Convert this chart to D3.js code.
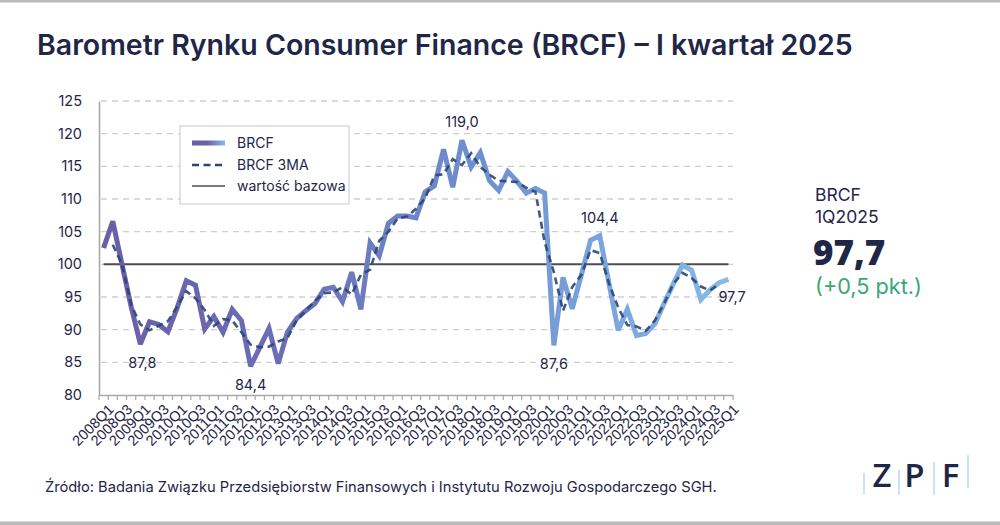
<!DOCTYPE html>
<html><head><meta charset="utf-8">
<script src="https://cdn.jsdelivr.net/npm/d3@7"></script>
<style>
html,body{margin:0;padding:0;background:#fff;}
svg{display:block;font-family:Inter,"Noto Sans",sans-serif;}
</style></head>
<body>
<svg id="c" width="1000" height="525"></svg>
<script>
const quarters = ["2008Q1","2008Q2","2008Q3","2008Q4","2009Q1","2009Q2","2009Q3","2009Q4","2010Q1","2010Q2","2010Q3","2010Q4","2011Q1","2011Q2","2011Q3","2011Q4","2012Q1","2012Q2","2012Q3","2012Q4","2013Q1","2013Q2","2013Q3","2013Q4","2014Q1","2014Q2","2014Q3","2014Q4","2015Q1","2015Q2","2015Q3","2015Q4","2016Q1","2016Q2","2016Q3","2016Q4","2017Q1","2017Q2","2017Q3","2017Q4","2018Q1","2018Q2","2018Q3","2018Q4","2019Q1","2019Q2","2019Q3","2019Q4","2020Q1","2020Q2","2020Q3","2020Q4","2021Q1","2021Q2","2021Q3","2021Q4","2022Q1","2022Q2","2022Q3","2022Q4","2023Q1","2023Q2","2023Q3","2023Q4","2024Q1","2024Q2","2024Q3","2024Q4","2025Q1"];
const brcf = [102.5,106.6,100.0,93.5,87.8,91.2,90.8,89.7,93.3,97.5,96.8,90.1,92.0,89.6,93.1,91.4,84.4,87.3,90.2,84.8,89.6,91.7,92.9,94.0,96.2,96.5,94.3,98.8,93.1,103.3,101.3,106.3,107.4,107.4,107.1,111.1,112.0,117.6,111.8,119.0,114.9,117.1,112.8,111.3,114.2,112.7,110.9,111.6,110.9,87.6,98.0,93.2,98.4,103.7,104.4,97.1,89.9,93.1,89.1,89.4,90.9,94.0,97.0,99.9,99.1,94.6,96.1,97.2,97.7];
// centered 3-quarter moving average (null where not available)
const brcf3ma = [null,103.0,100.0,93.8,90.8,89.9,90.6,91.3,93.5,95.9,94.8,93.0,90.6,91.6,91.4,89.6,87.7,87.3,87.4,88.2,88.7,91.4,92.9,94.4,95.6,95.7,96.5,95.4,98.4,99.2,103.6,105.0,107.0,107.3,108.5,110.1,113.6,113.8,116.1,115.2,117.0,114.9,113.7,112.8,112.7,112.6,111.7,111.1,103.4,98.8,92.9,96.5,98.4,102.2,101.7,97.1,93.4,90.7,90.5,89.8,91.4,94.0,97.0,98.7,97.9,96.6,96.0,97.0,null];
const baseValue = 100;
const yTicks = [80,85,90,95,100,105,110,115,120,125];
const annotations = [
  {q:"2009Q1", label:"87,8", pos:"below"},
  {q:"2012Q1", label:"84,4", pos:"below"},
  {q:"2017Q4", label:"119,0", pos:"above"},
  {q:"2020Q2", label:"87,6", pos:"below"},
  {q:"2021Q3", label:"104,4", pos:"above"},
  {q:"2025Q1", label:"97,7", pos:"right"}
];
const legendItems = ["BRCF","BRCF 3MA","wartość bazowa"];
const titleText = "Barometr Rynku Consumer Finance (BRCF) – I kwartał 2025";
const sourceText = "Źródło: Badania Związku Przedsiębiorstw Finansowych i Instytutu Rozwoju Gospodarczego SGH.";
const panelLines = ["BRCF","1Q2025"];
const panelValue = "97,7";
const panelChange = "(+0,5 pkt.)";
const logoLetters = ["Z","P","F"];

const NAVY = "#1f2647";
const svg = d3.select("#c");

function fit(sel, w){
  const n = sel.node();
  const cur = parseFloat(sel.attr("font-size"));
  const len = n.getComputedTextLength();
  if(len>0) sel.attr("font-size", (cur*w/len).toFixed(2));
}

// frame lines
svg.append("rect").attr("x",0).attr("y",0).attr("width",1000).attr("height",2.5).attr("fill","#b9b9b9");
svg.append("rect").attr("x",0).attr("y",521.5).attr("width",1000).attr("height",3.5).attr("fill","#b9b9b9");

// title
const t = svg.append("text").attr("x",37).attr("y",55).attr("font-size",23).attr("font-weight",600)
  .attr("fill",NAVY).text(titleText);
fit(t, 816);

const x = d3.scaleBand().domain(quarters).range([99,733]).padding(0);
const y = d3.scaleLinear().domain([80,125]).range([395,101]);
const cx = q => x(q) + x.bandwidth()/2;

// gridlines
svg.append("g").selectAll("line").data(yTicks.filter(v=>v!==80)).join("line")
  .attr("x1",101).attr("x2",733).attr("y1",d=>y(d)).attr("y2",d=>y(d))
  .attr("stroke","#cfcfcf").attr("stroke-width",1.3).attr("stroke-dasharray","6,5");

// y axis
const ya = svg.append("g").attr("transform","translate(99,0)")
  .call(d3.axisLeft(y).tickValues(yTicks).tickSize(0).tickPadding(17));
ya.select(".domain").attr("stroke","#a9a9a9").attr("stroke-width",1.6);
ya.selectAll("text").attr("font-size",14.5).attr("fill",NAVY).attr("font-family","Inter,sans-serif");

// x axis
const xa = svg.append("g").attr("transform","translate(0,395)")
  .call(d3.axisBottom(x).tickValues([]).tickSizeOuter(0));
xa.select(".domain").attr("stroke","#a9a9a9").attr("stroke-width",1.6);
svg.append("g").selectAll("line").data(quarters.concat(["__end"])).join("line")
  .attr("x1",(d,i)=> i<quarters.length ? x(d) : x.range()[1])
  .attr("x2",(d,i)=> i<quarters.length ? x(d) : x.range()[1])
  .attr("y1",395).attr("y2",400).attr("stroke","#a9a9a9").attr("stroke-width",1.2);
svg.append("g").selectAll("text").data(quarters.filter(q=>/Q[13]$/.test(q))).join("text")
  .attr("transform",d=>`translate(${cx(d)+4},${403}) rotate(-45)`)
  .attr("text-anchor","end").attr("dy","0.7em")
  .attr("font-size",14.5).attr("font-family","'Liberation Sans',Arial,sans-serif").attr("fill",NAVY)
  .text(d=>d);

// baseline
svg.append("line").attr("x1",cx(quarters[0])).attr("x2",cx(quarters[quarters.length-1]))
  .attr("y1",y(baseValue)).attr("y2",y(baseValue)).attr("stroke","#4d4d55").attr("stroke-width",2);

// gradient
const defs = svg.append("defs");
const g = defs.append("linearGradient").attr("id","lg").attr("gradientUnits","userSpaceOnUse")
  .attr("x1",cx(quarters[0])).attr("x2",cx(quarters[quarters.length-1])).attr("y1",0).attr("y2",0);
g.append("stop").attr("offset","0").attr("stop-color","#6a5ea8");
g.append("stop").attr("offset","0.3").attr("stop-color","#6b6fb6");
g.append("stop").attr("offset","0.6").attr("stop-color","#6f90cf");
g.append("stop").attr("offset","1").attr("stop-color","#86bae8");
const lg2 = defs.append("linearGradient").attr("id","lg2").attr("gradientUnits","userSpaceOnUse")
  .attr("x1",192).attr("x2",225).attr("y1",0).attr("y2",0);
lg2.append("stop").attr("offset","0").attr("stop-color","#6a5ea8");
lg2.append("stop").attr("offset","0.45").attr("stop-color","#6a5ea8");
lg2.append("stop").attr("offset","1").attr("stop-color","#86bae8");

const line = d3.line().defined(d=>d.v!=null).x(d=>cx(d.q)).y(d=>y(d.v));
svg.append("path").datum(quarters.map((q,i)=>({q,v:brcf[i]})))
  .attr("d",line).attr("fill","none").attr("stroke","url(#lg)").attr("stroke-width",5)
  .attr("stroke-linejoin","miter").attr("stroke-miterlimit",3);
svg.append("path").datum(quarters.map((q,i)=>({q,v:brcf3ma[i]})))
  .attr("d",line).attr("fill","none").attr("stroke","#2b4677").attr("stroke-width",2.6)
  .attr("stroke-dasharray","7,4.5").attr("opacity",0.9);

// annotations
annotations.forEach(a=>{
  const i = quarters.indexOf(a.q);
  const px = cx(a.q), py = y(brcf[i]);
  let tx=px, ty=py, anchor="middle";
  if(a.pos==="below"){ty = py+24;}
  else if(a.pos==="above"){ty = py-13;}
  else {tx = px-10; ty = py+23; anchor="start";}
  if(a.q==="2009Q1"){tx=px+2;}
  svg.append("text").attr("x",tx).attr("y",ty).attr("text-anchor",anchor)
    .attr("font-size",14.5).attr("fill",NAVY).text(a.label);
});

// legend
const L = svg.append("g");
L.append("rect").attr("x",180).attr("y",126).attr("width",169).attr("height",78)
  .attr("fill","#fff").attr("stroke","#c8c8c8").attr("stroke-width",1);
const ly = [143,165,186];
L.append("line").attr("x1",192).attr("x2",225).attr("y1",ly[0]).attr("y2",ly[0]).attr("stroke","url(#lg2)").attr("stroke-width",5);
L.append("line").attr("x1",192).attr("x2",225).attr("y1",ly[1]).attr("y2",ly[1]).attr("stroke","#2b4677").attr("stroke-width",2.6).attr("stroke-dasharray","7,4.5");
L.append("line").attr("x1",192).attr("x2",225).attr("y1",ly[2]).attr("y2",ly[2]).attr("stroke","#4d4d55").attr("stroke-width",1.6);
legendItems.forEach((d,i)=>{
  L.append("text").attr("x",237).attr("y",ly[i]+5).attr("font-size",14).attr("fill",NAVY).text(d);
});

// right panel
svg.append("text").attr("x",815).attr("y",201).attr("font-size",17.5).attr("fill",NAVY).text(panelLines[0]);
svg.append("text").attr("x",815).attr("y",223).attr("font-size",17.5).attr("fill",NAVY).text(panelLines[1]);
svg.append("text").attr("x",813).attr("y",265).attr("font-size",35).attr("font-weight",800)
  .attr("font-family","'Open Sans',sans-serif").attr("fill",NAVY).text(panelValue);
const pc = svg.append("text").attr("x",815).attr("y",294).attr("font-size",18.5).attr("fill","#3aa676").text(panelChange);
fit(pc,107);

// source
const src = svg.append("text").attr("x",45).attr("y",492).attr("font-size",14).attr("fill",NAVY).text(sourceText);
fit(src, 672);

// logo
const lx = [882,914.5,950.5];
logoLetters.forEach((d,i)=>{
  svg.append("text").attr("x",lx[i]).attr("y",486.5).attr("text-anchor","middle")
    .attr("font-size",33).attr("font-weight",600).attr("font-family","'Open Sans',sans-serif")
    .attr("fill",NAVY).text(d);
});
const seps = [[864,473,494],[899,470,495],[934,462,495],[968,455,488]];
svg.append("g").selectAll("line").data(seps).join("line")
  .attr("x1",d=>d[0]).attr("x2",d=>d[0]).attr("y1",d=>d[1]).attr("y2",d=>d[2])
  .attr("stroke","#b9d9f1").attr("stroke-width",1.5);
</script>
</body></html>
